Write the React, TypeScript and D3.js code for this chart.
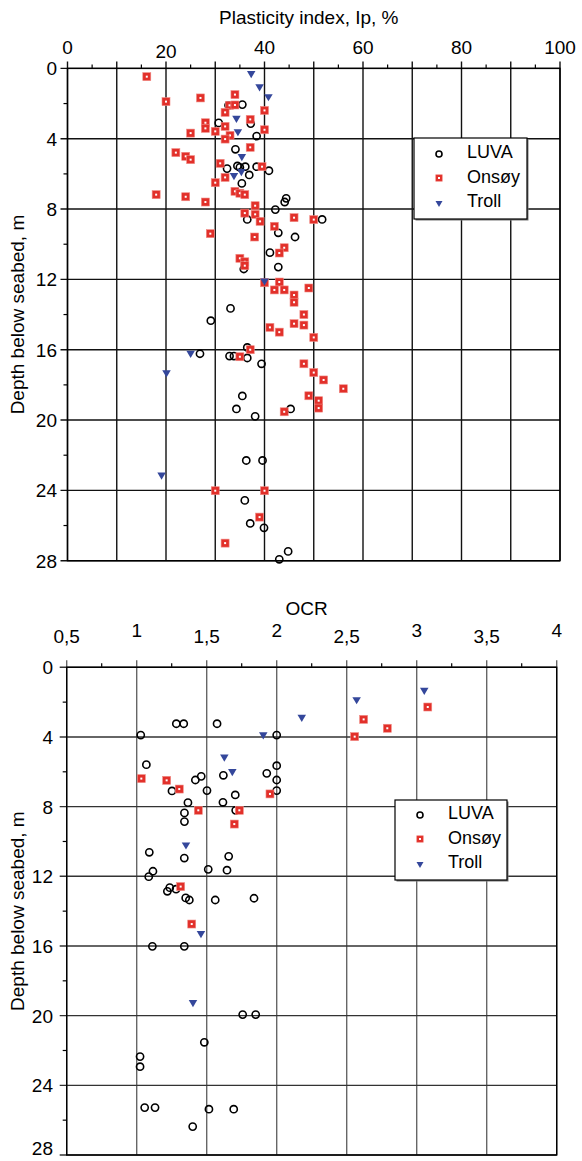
import React from "react";
import * as d3 from "d3";

// ---------- DATA ----------
const ipTicks = [0, 20, 40, 60, 80, 100];
const ocrTicks = [0.5, 1, 1.5, 2, 2.5, 3, 3.5, 4];
const ocrTickLabels = ["0,5", "1", "1,5", "2", "2,5", "3", "3,5", "4"];
const depthTicks = [0, 4, 8, 12, 16, 20, 24, 28];
const seriesNames = ["LUVA", "Onsøy", "Troll"];

// Plasticity index (Ip %, depth m)
const ipLuva: [number, number][] = [
  [35.5, 2.06], [32.7, 2.1], [30.7, 3.1], [37.2, 3.14], [38.4, 3.85], [34.1, 4.6], [32.4, 5.7],
  [34.5, 5.55], [35.0, 5.63], [36.1, 5.59], [38.4, 5.59], [40.9, 5.82], [36.9, 6.06], [35.4, 6.54],
  [44.4, 7.39], [44.1, 7.6], [42.2, 8.03], [36.5, 8.59], [51.7, 8.59], [42.8, 9.35], [46.2, 9.59],
  [41.1, 10.48], [42.8, 11.3], [35.8, 11.41], [33.1, 13.65], [29.1, 14.35], [36.5, 15.87],
  [26.9, 16.23], [32.9, 16.36], [33.8, 16.36], [36.5, 16.47], [39.4, 16.8], [35.5, 18.63],
  [34.3, 19.37], [45.3, 19.37], [38.1, 19.79], [36.3, 22.3], [39.6, 22.3], [36.0, 24.57],
  [37.1, 25.88], [39.9, 26.13], [44.8, 27.47], [43.0, 27.92],
];
const ipOnsoy: [number, number][] = [
  [16.1, 0.47], [20.0, 1.89], [27.0, 1.68], [34.0, 1.49], [32.9, 2.1], [34.0, 2.08], [32.0, 2.5],
  [40.0, 2.39], [37.1, 2.9], [28.0, 3.09], [28.0, 3.41], [32.0, 3.3], [40.0, 3.49], [25.0, 3.68],
  [30.0, 3.58], [33.0, 3.81], [32.0, 4.02], [37.1, 4.49], [22.0, 4.79], [24.0, 5.0], [25.0, 5.19],
  [31.0, 5.4], [39.5, 5.59], [32.0, 6.2], [30.0, 6.5], [18.0, 7.18], [24.0, 7.3], [28.0, 7.6],
  [34.0, 6.99], [35.0, 7.1], [36.0, 7.18], [38.1, 7.81], [36.0, 8.23], [38.1, 8.3], [39.1, 8.7],
  [46.0, 8.49], [50.0, 8.6], [42.0, 8.98], [29.0, 9.4], [38.0, 9.59], [44.0, 10.2], [43.0, 10.5],
  [35.0, 10.8], [36.0, 11.0], [36.0, 11.22], [40.0, 12.19], [43.0, 12.15], [42.0, 12.6],
  [44.0, 12.6], [49.0, 12.49], [46.0, 12.89], [46.0, 13.3], [48.0, 14.0], [46.0, 14.52],
  [48.0, 14.6], [41.1, 14.73], [43.0, 15.0], [50.0, 15.3], [37.1, 16.0], [35.0, 16.4],
  [48.0, 16.8], [50.0, 17.3], [52.0, 17.72], [56.0, 18.22], [49.0, 18.62], [51.0, 18.9],
  [51.0, 19.32], [44.0, 19.53], [30.0, 24.02], [40.0, 24.02], [39.0, 25.52], [32.0, 27.0],
];
const ipTroll: [number, number][] = [
  [37.3, 0.35], [39.0, 1.11], [40.8, 1.67], [34.3, 2.9], [34.6, 3.66], [35.4, 5.08], [35.3, 5.93],
  [33.8, 6.16], [40.0, 12.15], [25.0, 16.27], [20.1, 17.37], [19.1, 23.19],
];

// OCR (OCR, depth m)
const ocrLuva: [number, number][] = [
  [1.283, 3.24], [1.336, 3.24], [1.574, 3.24], [1.029, 3.89], [2.0, 3.89], [1.069, 5.59],
  [2.0, 5.65], [1.929, 6.09], [1.619, 6.2], [1.461, 6.26], [1.419, 6.47], [2.0, 6.47],
  [1.252, 7.1], [1.502, 7.08], [2.0, 7.08], [1.704, 7.33], [1.366, 7.77], [1.616, 7.75],
  [1.707, 8.21], [1.341, 8.36], [1.341, 8.86], [1.09, 10.62], [1.34, 10.95], [1.657, 10.85],
  [1.511, 11.6], [1.645, 11.65], [1.116, 11.71], [1.086, 12.02], [1.236, 12.65], [1.281, 12.74],
  [1.219, 12.86], [1.35, 13.24], [1.376, 13.36], [1.561, 13.36], [1.838, 13.26], [1.112, 16.02],
  [1.34, 16.02], [1.757, 19.94], [1.85, 19.94], [1.483, 21.53], [1.024, 22.35], [1.024, 22.93],
  [1.057, 25.28], [1.131, 25.28], [1.516, 25.37], [1.693, 25.37], [1.4, 26.37],
];
const ocrOnsoy: [number, number][] = [
  [3.079, 2.28], [2.621, 2.99], [2.79, 3.5], [2.557, 3.98], [1.033, 6.39], [1.214, 6.49],
  [1.304, 6.99], [1.952, 7.27], [1.733, 8.21], [1.44, 8.21], [1.697, 9.0], [1.314, 12.59],
  [1.393, 14.74],
];
const ocrTroll: [number, number][] = [
  [3.054, 1.38], [2.571, 1.92], [2.179, 2.93], [1.904, 3.94], [1.626, 5.21], [1.683, 6.05],
  [1.352, 10.26], [1.459, 15.35], [1.402, 19.31],
];

// ---------- STYLE ----------
const FONT = "'Liberation Sans', Arial, Helvetica, sans-serif";
const RED = "#e2302a";
const BLUE = "#34479b";

const Circle = ({ x, y, r = 3.6 }: { x: number; y: number; r?: number }) => (
  <circle cx={x} cy={y} r={r} fill="none" stroke="#000" strokeWidth={1.6} />
);
const Square = ({ x, y, s = 8 }: { x: number; y: number; s?: number }) => (
  <g>
    <rect x={x - s / 2} y={y - s / 2} width={s} height={s} fill={RED} stroke="#f08a84" strokeWidth={0.6} />
    <rect x={x - 1} y={y - 1} width={2} height={2} fill="#fff" />
  </g>
);
const Tri = ({ x, y, w = 8.5 }: { x: number; y: number; w?: number }) => {
  const h = w * 0.85;
  return <path d={`M${x - w / 2},${y - h / 2}L${x + w / 2},${y - h / 2}L${x},${y + h / 2}Z`} fill={BLUE} />;
};

type PanelProps = {
  x0: number; x1: number; y0: number; y1: number;
  xDomain: [number, number];
  gridX: number[]; minorX: number[];
  xLabels: { v: number; t: string; base: number }[];
  title: string; titleY: number;
  yLabelRight: number;
  luva: [number, number][]; onsoy: [number, number][]; troll: [number, number][];
  legend: { x: number; y: number; w: number; h: number; symX: number; textX: number; rows: number[] };
  vColor: string; hColor: string;
};

const Panel = (p: PanelProps) => {
  const xs = d3.scaleLinear().domain(p.xDomain).range([p.x0, p.x1]);
  const ys = d3.scaleLinear().domain([0, 28]).range([p.y0, p.y1]);
  const minorY = d3.range(2, 28, 4);
  const midY = (p.y0 + p.y1) / 2;
  return (
    <g fontFamily={FONT}>
      <text x={(p.x0 + p.x1) / 2 - 5} y={p.titleY} fontSize={19} textAnchor="middle">{p.title}</text>
      {p.xLabels.map((l) => (
        <text key={l.t} x={xs(l.v)} y={l.base} fontSize={19} textAnchor="middle">{l.t}</text>
      ))}
      {depthTicks.map((d) => (
        <text key={d} x={p.yLabelRight} y={Math.min(ys(d) + 7, 1155)} fontSize={19} textAnchor="end">{d}</text>
      ))}
      <text transform={`translate(24,${midY}) rotate(-90)`} fontSize={19} textAnchor="middle">Depth below seabed, m</text>
      {/* grid */}
      {p.gridX.map((v) => (
        <line key={"gx" + v} x1={xs(v)} x2={xs(v)} y1={p.y0 - 7} y2={p.y1} stroke={p.vColor} strokeWidth={1.4} />
      ))}
      {p.minorX.map((v) => (
        <line key={"mx" + v} x1={xs(v)} x2={xs(v)} y1={p.y0 - 4} y2={p.y0} stroke="#000" strokeWidth={1.2} />
      ))}
      {depthTicks.map((d) => (
        <line key={"gy" + d} x1={p.x0 - 7} x2={p.x1} y1={ys(d)} y2={ys(d)} stroke={p.hColor} strokeWidth={1.4} />
      ))}
      {minorY.map((d) => (
        <line key={"my" + d} x1={p.x0 - 4} x2={p.x0} y1={ys(d)} y2={ys(d)} stroke="#000" strokeWidth={1.2} />
      ))}
      <rect x={p.x0} y={p.y0} width={p.x1 - p.x0} height={p.y1 - p.y0} fill="none" stroke="#000" strokeWidth={1.4} />
      {/* markers */}
      {p.luva.map(([v, d], i) => <Circle key={"l" + i} x={xs(v)} y={ys(d)} />)}
      {p.onsoy.map(([v, d], i) => <Square key={"o" + i} x={xs(v)} y={ys(d)} />)}
      {p.troll.map(([v, d], i) => <Tri key={"t" + i} x={xs(v)} y={ys(d)} />)}
      {/* legend */}
      <rect x={p.legend.x + 1.5} y={p.legend.y + 1.5} width={p.legend.w} height={p.legend.h} fill="#777" />
      <rect x={p.legend.x} y={p.legend.y} width={p.legend.w} height={p.legend.h} fill="#fff" stroke="#000" strokeWidth={1.2} />
      {seriesNames.map((n, i) => {
        const ry = p.legend.rows[i];
        return (
          <g key={n}>
            {i === 0 && <Circle x={p.legend.symX} y={ry + 2} r={3} />}
            {i === 1 && <Square x={p.legend.symX} y={ry + 1} s={6.5} />}
            {i === 2 && <Tri x={p.legend.symX} y={ry + 3} w={7} />}
            <text x={p.legend.textX} y={ry + 6} fontSize={18}>{n}</text>
          </g>
        );
      })}
    </g>
  );
};

export default function App() {
  return (
    <svg width={582} height={1161} style={{ position: "absolute", left: 0, top: 0, background: "#fff" }}>
      <Panel
        x0={67.5} x1={560} y0={68.4} y1={560.7}
        xDomain={[0, 100]}
        gridX={d3.range(0, 101, 10)} minorX={d3.range(5, 100, 10)}
        xLabels={ipTicks.map((v) => ({ v, t: String(v), base: v === 20 ? 58 : 54 }))}
        title="Plasticity index, Ip, %" titleY={24}
        yLabelRight={57}
        luva={ipLuva} onsoy={ipOnsoy} troll={ipTroll}
        legend={{ x: 414, y: 138, w: 113, h: 81, symX: 439, textX: 467, rows: [152, 177, 201] }}
        vColor="#111" hColor="#111"
      />
      <Panel
        x0={66.7} x1={556.7} y0={667.3} y1={1155}
        xDomain={[0.5, 4]}
        gridX={d3.range(0.5, 4.01, 0.5)} minorX={d3.range(0.75, 4, 0.5)}
        xLabels={ocrTicks.map((v, i) => ({ v, t: ocrTickLabels[i], base: Number.isInteger(v) ? 637 : 643 }))}
        title="OCR" titleY={615}
        yLabelRight={53}
        luva={ocrLuva} onsoy={ocrOnsoy} troll={ocrTroll}
        legend={{ x: 395, y: 800, w: 112, h: 80, symX: 420, textX: 448, rows: [813, 838, 862] }}
        vColor="#666" hColor="#333"
      />
    </svg>
  );
}
